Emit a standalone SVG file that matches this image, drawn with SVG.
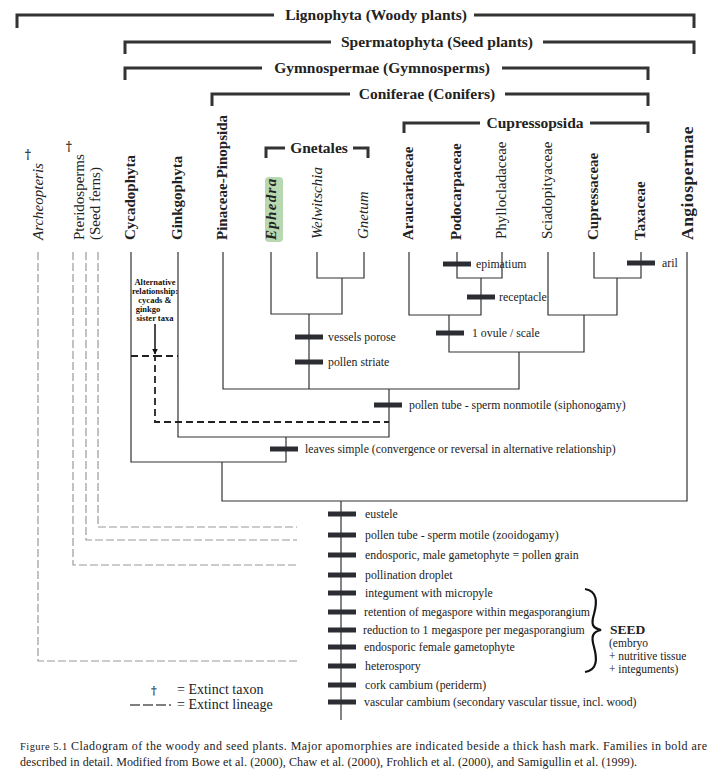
<svg xmlns="http://www.w3.org/2000/svg" width="728" height="782" viewBox="0 0 728 782">
<defs>
<style>
.br{fill:none;stroke:#333;stroke-width:3}
.ht{font-family:"Liberation Serif",serif;font-weight:bold;font-size:15.5px;fill:#222;text-anchor:middle}
.tx{font-family:"Liberation Serif",serif;font-size:15px;fill:#222}
.b{font-weight:bold}
.i{font-style:italic}
.dg{font-family:"DejaVu Serif",serif;font-weight:bold;fill:#333;text-anchor:middle}
.ln{fill:none;stroke:#333;stroke-width:1.2}
.ex{fill:none;stroke:#9a9a9a;stroke-width:1.2;stroke-dasharray:8,3}
.alt{fill:none;stroke:#222;stroke-width:1.8;stroke-dasharray:7,4}
.hm{stroke:#2b2d33;stroke-width:5}
.ap{font-family:"Liberation Serif",serif;font-size:11.8px;fill:#222}
.sd{font-family:"Liberation Serif",serif;font-size:11.5px;fill:#222}
.lg{font-family:"Liberation Serif",serif;font-size:14px;fill:#222}
.sm{font-family:"Liberation Serif",serif;font-weight:bold;font-size:8.5px;fill:#111;text-anchor:middle}
.cap{font-family:"Liberation Serif",serif;font-size:12px;fill:#222}
</style>
<marker id="arr" viewBox="0 0 10 10" refX="9" refY="5" markerWidth="6" markerHeight="6" orient="auto" markerUnits="userSpaceOnUse">
<path d="M0,0 L10,5 L0,10 Z" fill="#111"/>
</marker>
</defs>
<rect width="728" height="782" fill="#fff"/>

<g id="brackets">
<g id="lignophyta">
<path class="br" d="M17,28 V15 H274 M474,15 H694 V28"/>
<text class="ht" x="376" y="20">Lignophyta (Woody plants)</text>
</g>
<g id="spermatophyta">
<path class="br" d="M125,54 V42 H331 M543,42 H694 V54"/>
<text class="ht" x="437" y="47">Spermatophyta (Seed plants)</text>
</g>
<g id="gymnospermae">
<path class="br" d="M125,80 V68 H262 M502,68 H648 V80"/>
<text class="ht" x="382" y="73">Gymnospermae (Gymnosperms)</text>
</g>
<g id="coniferae">
<path class="br" d="M212,106 V94 H350 M505,94 H648 V106"/>
<text class="ht" x="427" y="99">Coniferae (Conifers)</text>
</g>
<g id="cupressopsida">
<path class="br" d="M404,133 V123 H480 M590,123 H648 V133"/>
<text class="ht" x="535" y="128">Cupressopsida</text>
</g>
<g id="gnetales">
<path class="br" d="M266,158 V148 H285 M353,148 H368 V158"/>
<text class="ht" x="319" y="153">Gnetales</text>
</g>
</g>

<g id="taxa">
<g id="archeopteris"><text class="tx i" transform="translate(43,240) rotate(-90)">Archeopteris</text><text class="dg" x="28" y="159" font-size="12">†</text></g>
<g id="pteridosperms"><text class="tx" transform="translate(84,240) rotate(-90)">Pteridosperms</text><text class="tx" transform="translate(100,240) rotate(-90)">(Seed ferns)</text><text class="dg" x="69" y="151" font-size="12">†</text></g>
<g id="cycadophyta"><text class="tx b" transform="translate(135,240) rotate(-90)">Cycadophyta</text></g>
<g id="ginkgophyta"><text class="tx b" transform="translate(182,240) rotate(-90)">Ginkgophyta</text></g>
<g id="pinaceae"><text class="tx b" transform="translate(227,240) rotate(-90)">Pinaceae-Pinopsida</text></g>
<g id="ephedra"><rect x="265" y="177" width="18" height="65" rx="4" fill="#b7d8b1"/><text class="tx b i" letter-spacing="1.3" transform="translate(276,240) rotate(-90)">Ephedra</text></g>
<g id="welwitschia"><text class="tx i" transform="translate(322,239) rotate(-90)">Welwitschia</text></g>
<g id="gnetum"><text class="tx i" transform="translate(368,239) rotate(-90)">Gnetum</text></g>
<g id="araucariaceae"><text class="tx b" transform="translate(413,240) rotate(-90)">Araucariaceae</text></g>
<g id="podocarpaceae"><text class="tx b" transform="translate(461,240) rotate(-90)">Podocarpaceae</text></g>
<g id="phyllocladaceae"><text class="tx" transform="translate(506,239) rotate(-90)">Phyllocladaceae</text></g>
<g id="sciadopityaceae"><text class="tx" transform="translate(552,239) rotate(-90)">Sciadopityaceae</text></g>
<g id="cupressaceae"><text class="tx b" transform="translate(598,240) rotate(-90)">Cupressaceae</text></g>
<g id="taxaceae"><text class="tx b" transform="translate(645,240) rotate(-90)">Taxaceae</text></g>
<g id="angiospermae"><text class="tx b" style="font-size:17.5px" letter-spacing="0.5" transform="translate(693,240) rotate(-90)">Angiospermae</text></g>
</g>

<g id="connectors">
<path class="ex" d="M38,252 V661 H300"/>
<path class="ex" d="M73,252 V565 H297"/>
<path class="ex" d="M86,252 V540 H297"/>
<path class="ex" d="M98,252 V527 H297"/>
<path class="ln" d="M131,252 V462 H286 V437 M178,252 V437 H389 V389 M223,252 V389 H519 V352 M271,252 V314 H342 V278 M317,252 V278 H364 V252 M309,314 V389 M409,252 V315 H481 V278 M457,252 V278 H502 V252 M449,315 V352 H584 V315 M548,252 V315 H617 V278 M594,252 V278 H641 V252 M222,462 V501 H687 V252 M341,501 V720"/>
<path class="alt" d="M131,356 H155 V422 H389 M155,356 H178"/>
<line x1="155" y1="324" x2="155" y2="354" stroke="#111" stroke-width="1.5" marker-end="url(#arr)"/>
</g>

<g id="alt-note">
<text class="sm" x="155" y="285">Alternative</text>
<text class="sm" x="155" y="294">relationship:</text>
<text class="sm" x="155" y="303">cycads &amp;</text>
<text class="sm" x="148" y="312">ginkgo</text>
<text class="sm" x="155" y="321">sister taxa</text>
</g>

<g id="apomorphies">
<line class="hm" x1="443" y1="264" x2="471" y2="264"/><text class="ap" x="476" y="268">epimatium</text>
<line class="hm" x1="627" y1="263" x2="655" y2="263"/><text class="ap" x="662" y="267">aril</text>
<line class="hm" x1="467" y1="297" x2="495" y2="297"/><text class="ap" x="499" y="301">receptacle</text>
<line class="hm" x1="436" y1="333" x2="464" y2="333"/><text class="ap" x="472" y="337">1 ovule / scale</text>
<line class="hm" x1="295" y1="337" x2="323" y2="337"/><text class="ap" x="328" y="341">vessels porose</text>
<line class="hm" x1="295" y1="362" x2="323" y2="362"/><text class="ap" x="328" y="366">pollen striate</text>
<line class="hm" x1="374" y1="405" x2="402" y2="405"/><text class="ap" x="409" y="409">pollen tube - sperm nonmotile (siphonogamy)</text>
<line class="hm" x1="270" y1="449" x2="298" y2="449"/><text class="ap" x="305" y="453">leaves simple (convergence or reversal in alternative relationship)</text>
<line class="hm" x1="328" y1="514" x2="356" y2="514"/><text class="ap" x="365" y="518">eustele</text>
<line class="hm" x1="328" y1="535" x2="356" y2="535"/><text class="ap" x="365" y="539">pollen tube - sperm motile (zooidogamy)</text>
<line class="hm" x1="328" y1="555" x2="356" y2="555"/><text class="ap" x="365" y="559">endosporic, male gametophyte = pollen grain</text>
<line class="hm" x1="328" y1="575" x2="356" y2="575"/><text class="ap" x="365" y="579">pollination droplet</text>
<line class="hm" x1="328" y1="593" x2="356" y2="593"/><text class="ap" x="365" y="597">integument with micropyle</text>
<line class="hm" x1="328" y1="612" x2="356" y2="612"/><text class="ap" x="364" y="616">retention of megaspore within megasporangium</text>
<line class="hm" x1="328" y1="630" x2="356" y2="630"/><text class="ap" x="363" y="634">reduction to 1 megaspore per megasporangium</text>
<line class="hm" x1="328" y1="647" x2="356" y2="647"/><text class="ap" x="364" y="651">endosporic female gametophyte</text>
<line class="hm" x1="328" y1="666" x2="356" y2="666"/><text class="ap" x="365" y="670">heterospory</text>
<line class="hm" x1="328" y1="685" x2="356" y2="685"/><text class="ap" x="365" y="689">cork cambium (periderm)</text>
<line class="hm" x1="328" y1="702" x2="356" y2="702"/><text class="ap" x="364" y="706">vascular cambium (secondary vascular tissue, incl. wood)</text>
</g>

<g id="seed">
<path d="M585,589 C598,591 597,603 594,614 C591,624 592,628 601,630 C592,632 591,637 594,647 C597,658 598,670 585,672" fill="none" stroke="#111" stroke-width="2.2"/>
<text class="sd b" x="610" y="634" style="font-size:13.5px">SEED</text>
<text class="sd" x="609" y="647">(embryo</text>
<text class="sd" x="609" y="660">+ nutritive tissue</text>
<text class="sd" x="609" y="673">+ integuments)</text>
</g>

<g id="legend">
<text class="dg" x="154" y="694" font-size="11">†</text>
<text class="lg" x="177" y="694">= Extinct taxon</text>
<line x1="130" y1="705" x2="171" y2="705" stroke="#555" stroke-width="1.3" stroke-dasharray="10,3"/>
<text class="lg" x="177" y="709">= Extinct lineage</text>
</g>

<g id="caption">
<text class="cap" x="20" y="750" textLength="687" lengthAdjust="spacing"><tspan style="font-size:10.5px">Figure 5.1</tspan>   Cladogram of the woody and seed plants. Major apomorphies are indicated beside a thick hash mark. Families in bold are</text>
<text class="cap" x="20" y="766" textLength="617" lengthAdjust="spacing">described in detail. Modified from Bowe et al. (2000), Chaw et al. (2000), Frohlich et al. (2000), and Samigullin et al. (1999).</text>
</g>
</svg>
